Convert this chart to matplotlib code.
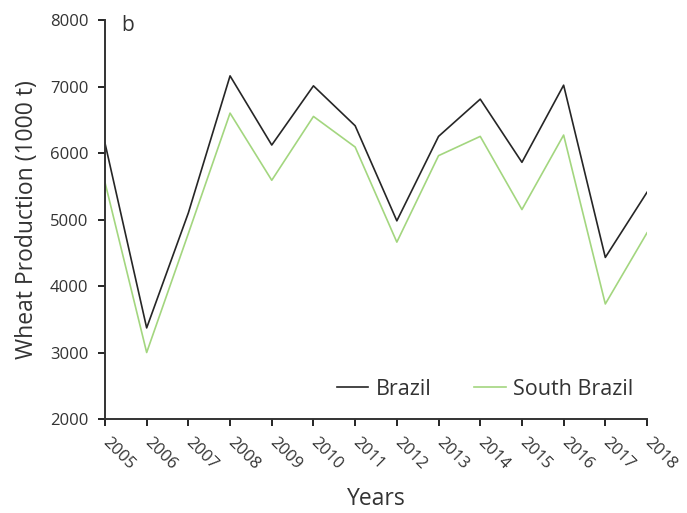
import matplotlib
matplotlib.use('Agg')
import matplotlib.pyplot as plt

# Wheat production, thousand tonnes
years = list(range(2005, 2019))
brazil = [6150, 3370, 5100, 7160, 6120, 7010, 6410, 4980, 6250, 6810, 5860, 7020, 4430, 5410]
south_brazil = [5560, 3000, 4790, 6600, 5590, 6550, 6090, 4660, 5960, 6250, 5150, 6270, 3730, 4800]

plt.rcParams['font.family'] = ['Open Sans', 'DejaVu Sans']

fig = plt.figure(figsize=(6.87, 5.13), dpi=100)
ax = fig.add_axes([0.1528, 0.1832, 0.789, 0.7778])

ax.plot(years, brazil, color='#262626', lw=1.2, label='Brazil')
ax.plot(years, south_brazil, color='#a3d67f', lw=1.2, label='South Brazil')

ax.set_xlim(2005, 2018)
ax.set_ylim(2000, 8000)
ax.set_xticks(years)
ax.set_yticks(range(2000, 8001, 1000))
ax.set_xticklabels([str(y) for y in years], rotation=-45, ha='left', va='center',
                   rotation_mode='anchor', fontsize=12, color='#333333')
ax.tick_params(axis='y', labelsize=12, labelcolor='#333333', length=5, width=1.2, pad=7)
ax.tick_params(axis='x', length=5, width=1.2, pad=10)

for side in ['top', 'right']:
    ax.spines[side].set_visible(False)
for side in ['left', 'bottom']:
    ax.spines[side].set_color('#333333')
    ax.spines[side].set_linewidth(1.4)

ax.set_ylabel('Wheat Production (1000 t)', fontsize=16.5, color='#333333', labelpad=8)
ax.set_xlabel('Years', fontsize=16.5, color='#333333', labelpad=10)

ax.text(0.03, 0.985, 'b', transform=ax.transAxes, fontsize=15, va='center', ha='left', color='#333333')

ax.legend(loc='center right', bbox_to_anchor=(0.975, 0.075), ncol=2, frameon=False,
          fontsize=15.5, handlelength=1.45, columnspacing=2.0, handletextpad=0.35,
          borderpad=0, borderaxespad=0, labelcolor='#333333')

fig.savefig('out.png', dpi=100)
